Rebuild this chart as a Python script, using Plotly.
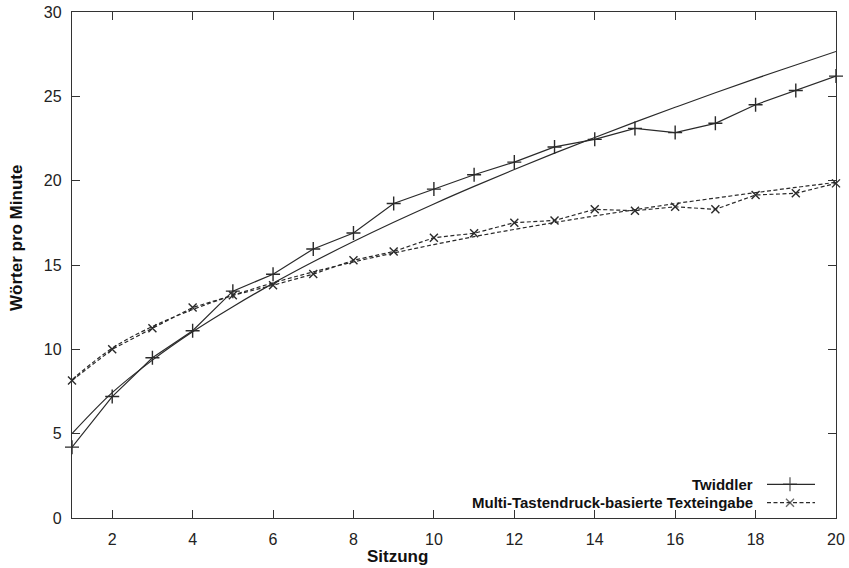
import plotly.graph_objects as go

# ---- data ----
sessions = list(range(1, 21))
twiddler = [4.2, 7.2, 9.5, 11.1, 13.45, 14.45, 15.95, 16.9, 18.65, 19.5,
            20.35, 21.1, 22.0, 22.45, 23.1, 22.85, 23.4, 24.5, 25.35, 26.2]
twiddler_fit = [5.0, 7.43, 9.36, 11.04, 12.53, 13.91, 15.19, 16.39, 17.53, 18.62,
                19.66, 20.66, 21.63, 22.56, 23.47, 24.35, 25.21, 26.05, 26.86, 27.66]
multi = [8.15, 10.0, 11.25, 12.48, 13.2, 13.8, 14.46, 15.28, 15.8, 16.62,
         16.88, 17.51, 17.64, 18.3, 18.22, 18.45, 18.3, 19.15, 19.25, 19.84]
multi_fit = [8.2, 10.07, 11.35, 12.36, 13.2, 13.94, 14.59, 15.18, 15.71, 16.21,
             16.68, 17.11, 17.52, 17.91, 18.28, 18.64, 18.97, 19.29, 19.6, 19.9]
x_ticks = list(range(2, 21, 2))
y_ticks = list(range(0, 31, 5))
legend_names = ["Twiddler", "Multi-Tastendruck-basierte Texteingabe"]

W, H = 849, 568
L, R, T, B = 72, 13, 12, 50
PW, PH = W - L - R, H - T - B

def px(x):
    return (x - L) / PW

def py(y):
    return (T + PH - y) / PH

FONT = "Liberation Sans, Arial, Helvetica, sans-serif"
LINE = "#2a2a2a"
DASH = "4px,2.5px"

fig = go.Figure()

# Twiddler fit (solid)
fig.add_trace(go.Scatter(x=sessions, y=twiddler_fit, mode="lines",
                         line=dict(color=LINE, width=1.2, shape="spline"),
                         showlegend=False, hoverinfo="skip"))
# Twiddler data
fig.add_trace(go.Scatter(x=sessions, y=twiddler, mode="lines+markers",
                         line=dict(color=LINE, width=1.2),
                         marker=dict(symbol="cross-thin-open", size=10,
                                     line=dict(color="#000", width=1.4)),
                         cliponaxis=False, showlegend=False))
# Multi fit (dashed)
fig.add_trace(go.Scatter(x=sessions, y=multi_fit, mode="lines",
                         line=dict(color=LINE, width=1.2, dash=DASH, shape="spline"),
                         showlegend=False, hoverinfo="skip"))
# Multi data
fig.add_trace(go.Scatter(x=sessions, y=multi, mode="lines+markers",
                         line=dict(color=LINE, width=1.2, dash=DASH),
                         marker=dict(symbol="x-thin-open", size=8,
                                     line=dict(color="#000", width=1.4)),
                         cliponaxis=False, showlegend=False))

# ---- manual legend (text right, sample on the right, gnuplot style) ----
rows = [484.3, 502.7]
styles = [
    (dict(color=LINE, width=1.2), "cross-thin-open", 10),
    (dict(color=LINE, width=1.2, dash=DASH), "x-thin-open", 8),
]
for name, yy, (lst, sym, sz) in zip(legend_names, rows, styles):
    fig.add_trace(go.Scatter(
        x=[px(767), px(790), px(815)], y=[py(yy)] * 3,
        xaxis="x2", yaxis="y2", mode="lines+markers",
        line=lst,
        marker=dict(symbol=sym, size=[0, sz, 0], line=dict(color="#000", width=1.4)),
        showlegend=False, hoverinfo="skip", cliponaxis=False))
    fig.add_annotation(x=px(755), y=py(yy), xref="paper", yref="paper",
                       text="<b>%s</b>" % name, showarrow=False,
                       xanchor="right", yanchor="middle",
                       font=dict(family=FONT, size=15, color="#111"))

# axis titles
fig.add_annotation(x=px(397), y=py(556), xref="paper", yref="paper",
                   text="<b>Sitzung</b>", showarrow=False,
                   xanchor="center", yanchor="middle",
                   font=dict(family=FONT, size=17, color="#111"))
fig.add_annotation(x=px(16), y=py(238), xref="paper", yref="paper",
                   text="<b>Wörter pro Minute</b>", showarrow=False, textangle=-90,
                   xanchor="center", yanchor="middle",
                   font=dict(family=FONT, size=17, color="#111"))

axis_common = dict(showgrid=False, zeroline=False, showline=True, linecolor="#333",
                   linewidth=1.3, ticks="inside", ticklen=8, tickwidth=1.3,
                   tickcolor="#333", mirror="ticks", automargin=False,
                   tickfont=dict(family=FONT, size=16, color="#222"))

fig.update_layout(
    width=W, height=H,
    margin=dict(l=L, r=R, t=T, b=B, autoexpand=False),
    paper_bgcolor="white", plot_bgcolor="white",
    xaxis=dict(range=[1, 20], tickvals=x_ticks, ticklabelstandoff=7, **axis_common),
    yaxis=dict(range=[0, 30], tickvals=y_ticks, ticklabelstandoff=6, **axis_common),
    xaxis2=dict(overlaying="x", range=[0, 1], visible=False),
    yaxis2=dict(overlaying="y", range=[0, 1], visible=False),
    showlegend=False,
)

fig.write_html("out.html")
